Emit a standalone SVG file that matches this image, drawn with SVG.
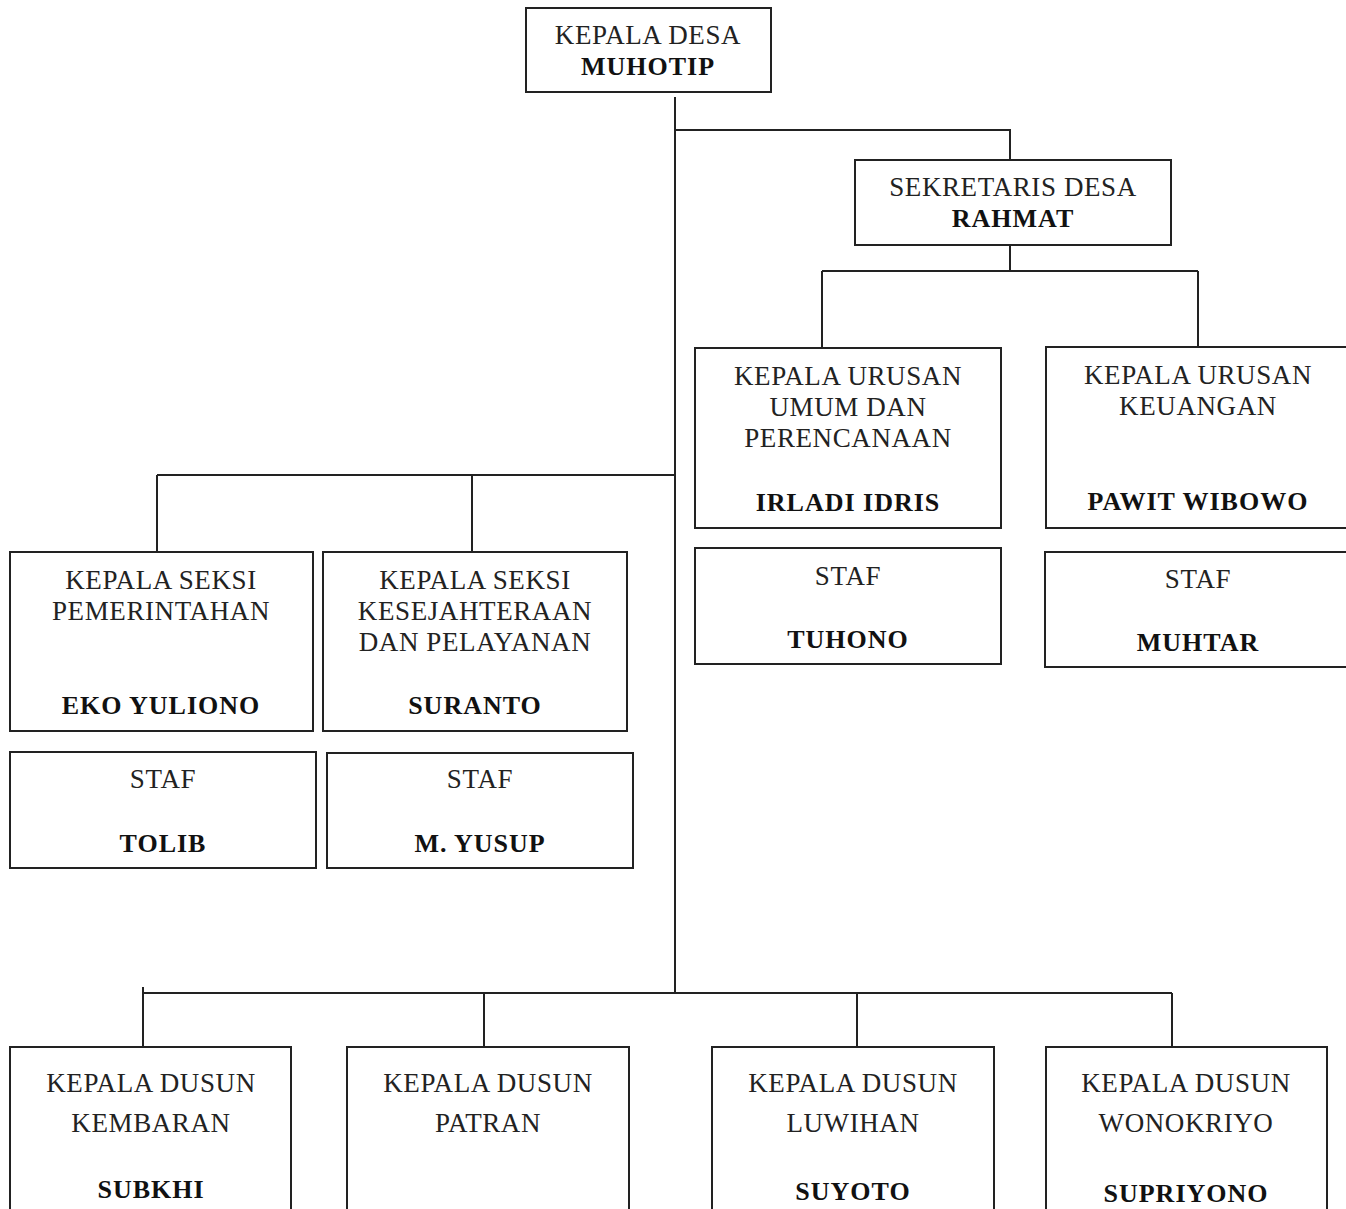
<svg xmlns="http://www.w3.org/2000/svg" width="1346" height="1209" viewBox="0 0 1346 1209">
<style>
.box{fill:#fff;stroke:#222;stroke-width:2}
.ln{fill:none;stroke:#222;stroke-width:2}
.t{font-family:"Liberation Serif",serif;font-size:27px;fill:#222;text-anchor:middle;letter-spacing:0.6px}
.b{font-family:"Liberation Serif",serif;font-size:26px;font-weight:bold;fill:#111;text-anchor:middle;letter-spacing:1px}
</style>
<rect width="1346" height="1209" fill="#fff"/>
<g id="connectors">
<path class="ln" d="M675 97 V993"/>
<path class="ln" d="M675 130 H1010 V160"/>
<path class="ln" d="M1010 245 V271 M822 271 H1198 M822 271 V348 M1198 271 V347"/>
<path class="ln" d="M157 475 H675 M157 475 V552 M472 475 V552"/>
<path class="ln" d="M143 993 H1172 M143 987 V1048 M484 993 V1048 M857 993 V1048 M1172 993 V1048"/>
</g>
<g id="kepala-desa">
<rect class="box" x="526" y="8" width="245" height="84"/>
<text class="t" x="648" y="44">KEPALA DESA</text>
<text class="b" x="648" y="75">MUHOTIP</text>
</g>
<g id="sekretaris-desa">
<rect class="box" x="855" y="160" width="316" height="85"/>
<text class="t" x="1013" y="196">SEKRETARIS DESA</text>
<text class="b" x="1013" y="227">RAHMAT</text>
</g>
<g id="kaur-umum">
<rect class="box" x="695" y="348" width="306" height="180"/>
<text class="t" x="848" y="385">KEPALA URUSAN</text>
<text class="t" x="848" y="416">UMUM DAN</text>
<text class="t" x="848" y="447">PERENCANAAN</text>
<text class="b" x="848" y="511">IRLADI IDRIS</text>
</g>
<g id="kaur-keuangan">
<rect class="box" x="1046" y="347" width="302" height="181"/>
<text class="t" x="1198" y="384">KEPALA URUSAN</text>
<text class="t" x="1198" y="415">KEUANGAN</text>
<text class="b" x="1198" y="510">PAWIT WIBOWO</text>
</g>
<g id="staf-tuhono">
<rect class="box" x="695" y="548" width="306" height="116"/>
<text class="t" x="848" y="585">STAF</text>
<text class="b" x="848" y="648">TUHONO</text>
</g>
<g id="staf-muhtar">
<rect class="box" x="1045" y="552" width="303" height="115"/>
<text class="t" x="1198" y="588">STAF</text>
<text class="b" x="1198" y="651">MUHTAR</text>
</g>
<g id="kasi-pemerintahan">
<rect class="box" x="10" y="552" width="303" height="179"/>
<text class="t" x="161" y="589">KEPALA SEKSI</text>
<text class="t" x="161" y="620">PEMERINTAHAN</text>
<text class="b" x="161" y="714">EKO YULIONO</text>
</g>
<g id="kasi-kesejahteraan">
<rect class="box" x="323" y="552" width="304" height="179"/>
<text class="t" x="475" y="589">KEPALA SEKSI</text>
<text class="t" x="475" y="620">KESEJAHTERAAN</text>
<text class="t" x="475" y="651">DAN PELAYANAN</text>
<text class="b" x="475" y="714">SURANTO</text>
</g>
<g id="staf-tolib">
<rect class="box" x="10" y="752" width="306" height="116"/>
<text class="t" x="163" y="788">STAF</text>
<text class="b" x="163" y="852">TOLIB</text>
</g>
<g id="staf-yusup">
<rect class="box" x="327" y="753" width="306" height="115"/>
<text class="t" x="480" y="788">STAF</text>
<text class="b" x="480" y="852">M. YUSUP</text>
</g>
<g id="kadus-kembaran">
<rect class="box" x="10" y="1047" width="281" height="180"/>
<text class="t" x="151" y="1092">KEPALA DUSUN</text>
<text class="t" x="151" y="1132">KEMBARAN</text>
<text class="b" x="151" y="1198">SUBKHI</text>
</g>
<g id="kadus-patran">
<rect class="box" x="347" y="1047" width="282" height="180"/>
<text class="t" x="488" y="1092">KEPALA DUSUN</text>
<text class="t" x="488" y="1132">PATRAN</text>
</g>
<g id="kadus-luwihan">
<rect class="box" x="712" y="1047" width="282" height="180"/>
<text class="t" x="853" y="1092">KEPALA DUSUN</text>
<text class="t" x="853" y="1132">LUWIHAN</text>
<text class="b" x="853" y="1200">SUYOTO</text>
</g>
<g id="kadus-wonokriyo">
<rect class="box" x="1046" y="1047" width="281" height="180"/>
<text class="t" x="1186" y="1092">KEPALA DUSUN</text>
<text class="t" x="1186" y="1132">WONOKRIYO</text>
<text class="b" x="1186" y="1202">SUPRIYONO</text>
</g>
</svg>
